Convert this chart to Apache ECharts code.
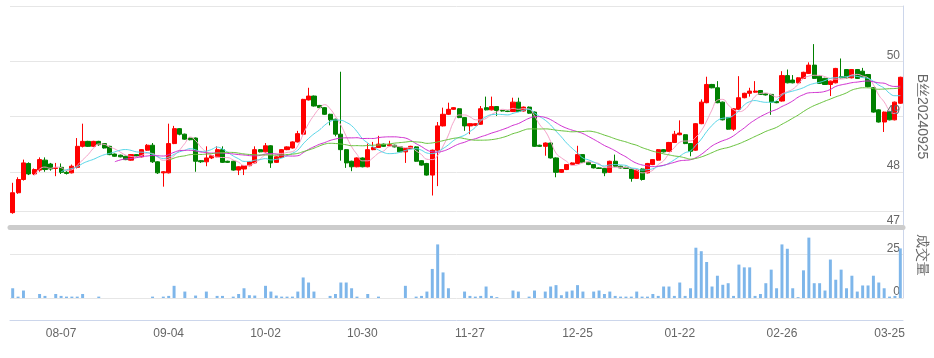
<!DOCTYPE html>
<html><head><meta charset="utf-8">
<script src="https://cdn.jsdelivr.net/npm/echarts@6/dist/echarts.min.js"></script>
<style>html,body{margin:0;padding:0;background:#fff}#main{width:934px;height:358px}</style>
</head><body><div id="main"></div>
<script>
const dates = [
'07-25','07-26','07-29','07-30','07-31','08-01','08-02','08-05','08-06','08-07',
'08-08','08-09','08-12','08-13','08-14','08-15','08-16','08-19','08-20','08-21',
'08-22','08-23','08-26','08-27','08-28','08-29','08-30','09-02','09-03','09-04',
'09-05','09-06','09-09','09-10','09-11','09-12','09-13','09-18','09-19','09-20',
'09-23','09-24','09-25','09-26','09-27','09-30','10-01','10-02','10-07','10-08',
'10-09','10-10','10-11','10-14','10-15','10-16','10-17','10-18','10-21','10-22',
'10-23','10-24','10-25','10-28','10-29','10-30','10-31','11-01','11-04','11-05',
'11-06','11-07','11-08','11-11','11-12','11-13','11-14','11-15','11-18','11-19',
'11-20','11-21','11-22','11-25','11-26','11-27','11-28','11-29','12-02','12-03',
'12-04','12-05','12-06','12-09','12-10','12-11','12-12','12-13','12-16','12-17',
'12-18','12-19','12-20','12-23','12-24','12-25','12-26','12-27','12-30','12-31',
'01-02','01-03','01-06','01-07','01-08','01-09','01-10','01-13','01-14','01-15',
'01-16','01-17','01-20','01-21','01-22','01-23','01-24','01-27','02-05','02-06',
'02-07','02-10','02-11','02-12','02-13','02-14','02-17','02-18','02-19','02-20',
'02-21','02-24','02-25','02-26','02-27','02-28','03-01','03-03','03-04','03-05',
'03-06','03-07','03-10','03-11','03-12','03-13','03-14','03-17','03-18','03-19',
'03-20','03-21','03-24','03-25','03-26','03-27'];
const labelDates = ['08-07','09-04','10-02','10-30','11-27','12-25','01-22','02-26','03-25'];
// [open, close, low, high]
const candles = [
[47.26,47.62,47.24,47.80],[47.62,47.86,47.60,47.90],[47.86,48.16,47.84,48.22],[48.15,47.96,47.94,48.17],[47.96,48.04,47.94,48.06],
[48.03,48.22,48.00,48.26],[48.21,48.04,48.00,48.26],[48.14,48.05,48.02,48.16],[48.06,48.07,47.92,48.16],[48.08,47.99,47.96,48.15],
[47.99,47.97,47.95,48.01],[47.98,48.10,47.97,48.13],[48.08,48.46,48.06,48.61],[48.46,48.55,48.44,48.87],[48.55,48.46,48.45,48.56],
[48.46,48.55,48.45,48.56],[48.55,48.49,48.47,48.56],[48.51,48.43,48.42,48.52],[48.46,48.31,48.30,48.47],[48.32,48.28,48.27,48.33],
[48.30,48.27,48.26,48.31],[48.28,48.22,48.21,48.29],[48.21,48.31,48.20,48.32],[48.31,48.28,48.27,48.32],[48.27,48.40,48.26,48.41],
[48.39,48.48,48.38,48.50],[48.48,48.18,48.16,48.52],[48.18,47.98,47.96,48.19],[47.98,48.00,47.73,48.01],[47.98,48.51,47.97,48.87],
[48.51,48.78,48.50,48.83],[48.78,48.68,48.66,48.79],[48.68,48.59,48.58,48.69],[48.61,48.58,48.57,48.62],[48.61,48.19,48.00,48.62],
[48.20,48.18,48.16,48.21],[48.18,48.25,48.10,48.46],[48.25,48.29,48.23,48.30],[48.27,48.40,48.26,48.46],[48.40,48.17,48.16,48.46],
[48.19,48.17,48.16,48.20],[48.19,48.03,48.02,48.20],[48.03,48.09,47.94,48.10],[48.05,48.11,47.94,48.12],[48.11,48.18,48.10,48.19],
[48.16,48.40,48.15,48.46],[48.40,48.36,48.35,48.41],[48.36,48.47,48.35,48.52],[48.47,48.16,48.07,48.48],[48.17,48.27,48.16,48.28],
[48.26,48.40,48.25,48.41],[48.40,48.45,48.39,48.46],[48.43,48.54,48.42,48.55],[48.54,48.69,48.53,48.74],[48.68,49.31,48.67,49.32],
[49.30,49.37,49.29,49.52],[49.37,49.19,49.18,49.38],[49.20,49.16,49.15,49.21],[49.16,49.04,49.03,49.17],[49.04,48.94,48.84,49.05],
[48.95,48.68,48.64,48.96],[48.68,48.40,48.20,49.81],[48.40,48.16,48.07,48.41],[48.19,48.09,48.01,48.20],[48.09,48.25,48.08,48.26],
[48.25,48.09,48.08,48.26],[48.09,48.40,48.08,48.51],[48.40,48.44,48.39,48.54],[48.44,48.50,48.43,48.65],[48.50,48.46,48.45,48.51],
[48.47,48.49,48.46,48.56],[48.48,48.45,48.44,48.49],[48.45,48.36,48.35,48.46],[48.36,48.42,48.16,48.43],[48.42,48.46,48.41,48.47],
[48.45,48.19,48.18,48.46],[48.20,48.12,48.11,48.21],[48.15,47.94,47.93,48.16],[47.94,48.39,47.57,48.40],[48.39,48.83,47.74,48.90],
[48.83,49.04,48.82,49.16],[49.04,49.13,49.03,49.25],[49.13,49.16,49.12,49.17],[49.14,48.98,48.97,49.15],[48.98,48.83,48.74,48.99],
[48.83,48.87,48.68,48.88],[48.84,48.87,48.83,48.88],[48.86,49.14,48.85,49.19],[49.16,49.12,49.11,49.36],[49.12,49.18,49.11,49.36],
[49.18,49.11,49.01,49.19],[49.11,49.10,49.09,49.12],[49.10,49.09,49.08,49.11],[49.09,49.26,49.08,49.34],[49.26,49.09,49.08,49.34],
[49.10,49.17,49.09,49.18],[49.17,49.06,49.05,49.18],[49.08,48.46,48.45,49.09],[48.48,48.46,48.45,48.49],[48.46,48.52,48.29,48.53],
[48.52,48.25,48.24,48.53],[48.25,47.99,47.90,48.26],[47.99,48.04,47.98,48.05],[48.04,48.13,48.03,48.14],[48.13,48.16,48.12,48.17],
[48.15,48.31,48.14,48.47],[48.31,48.17,48.16,48.32],[48.17,48.13,48.12,48.18],[48.13,48.07,48.06,48.14],[48.07,48.06,48.05,48.08],
[48.06,47.98,47.92,48.07],[47.99,48.19,47.98,48.20],[48.19,48.10,48.09,48.31],[48.10,48.07,48.06,48.11],[48.08,48.06,48.05,48.09],
[48.05,47.88,47.82,48.06],[47.88,48.03,47.87,48.04],[48.05,47.86,47.84,48.06],[47.98,48.15,47.97,48.16],[48.13,48.22,48.12,48.23],
[48.21,48.40,48.20,48.41],[48.40,48.36,48.35,48.41],[48.37,48.53,48.36,48.54],[48.53,48.68,48.52,48.74],[48.67,48.70,48.66,48.93],
[48.67,48.51,48.50,48.68],[48.51,48.37,48.28,48.52],[48.39,48.87,48.38,48.88],[48.87,49.26,48.86,49.31],[49.25,49.58,49.24,49.72],
[49.58,49.52,49.51,49.59],[49.52,49.25,49.24,49.64],[49.26,48.94,48.93,49.27],[48.98,48.77,48.76,48.99],[48.77,49.14,48.74,49.15],
[49.13,49.34,49.12,49.73],[49.34,49.42,49.33,49.43],[49.42,49.46,49.36,49.52],[49.44,49.46,49.43,49.64],[49.47,49.40,49.39,49.48],
[49.41,49.39,49.38,49.42],[49.40,49.26,49.03,49.41],[49.27,49.25,49.24,49.28],[49.28,49.74,49.27,49.82],[49.74,49.61,49.60,49.85],
[49.66,49.61,49.60,49.75],[49.61,49.70,49.60,49.71],[49.69,49.80,49.68,49.81],[49.78,49.93,49.77,49.98],[49.93,49.69,49.68,50.31],
[49.73,49.60,49.59,49.74],[49.69,49.58,49.57,49.70],[49.58,49.64,49.37,49.65],[49.61,49.87,49.60,49.88],[49.72,49.70,49.69,50.05],
[49.85,49.70,49.69,49.86],[49.70,49.85,49.69,49.86],[49.85,49.69,49.68,49.86],[49.82,49.72,49.71,49.88],[49.76,49.54,49.53,49.77],
[49.52,49.08,49.07,49.53],[49.12,48.90,48.89,49.13],[48.90,49.08,48.72,49.09],[49.08,48.94,48.93,49.09],[48.94,49.26,48.93,49.27],
[49.24,49.71,49.23,49.72]];
const volumes = [
5.6,0.8,4.3,0,0,2.3,1.2,0,2.3,1.2,
0.8,0.8,0.8,2.3,0,0,0.8,0,0,0,
0,0,0,0,0,0,0.8,0,0.8,1.2,
7,0,3.7,0,1.4,0,3.7,0,1.2,1.2,
0,0.8,2.3,5.6,1.6,1.4,0,7,3.7,1.4,
0.8,0.8,0.8,3.7,11.8,8.9,3.7,0,0,1.2,
2.3,8.9,8.9,5.6,0.8,0,2.3,0,0.8,0,
0,0,0,7,0,0.8,1.2,3.7,16.7,30.8,
14.7,5.6,0,0,3.7,1.2,0.8,1.2,6.6,1.2,
0.5,0,0,4.3,3.7,0,0.8,4.3,0,3.7,
6.6,7.4,1.6,3.7,4.3,7.4,3.7,0,3.7,4.3,
2.3,3.7,1.2,0.8,0.8,0.8,3.7,0.8,0.8,2.3,
1.2,6.6,6.6,1.2,8.9,1.2,5.6,28.9,26.9,20.7,
6.6,12.8,7.6,8.5,1.2,19.2,17.6,17.6,1.2,2.3,
8.5,16.3,5.6,30.8,28.3,5.6,0.5,15.9,34.7,8.5,
8.5,4.3,22.1,10.5,16.3,5.6,12.8,3.7,7.2,7.2,
12.8,8.9,5.6,0.8,1.2,28.5];
const maDays = [5, 10, 20, 30];

function calcMA(n) {
  const out = [];
  for (let i = 0; i < candles.length; i++) {
    if (i < n - 1) { out.push('-'); continue; }
    let s = 0;
    for (let j = 0; j < n; j++) s += candles[i - j][1];
    out.push(+(s / n).toFixed(3));
  }
  return out;
}
const showLabel = (idx, val) => labelDates.indexOf(val) >= 0;
const maColors = ['#f5a2c8', '#55d6e8', '#d02fd0', '#66c23a'];
const axisBlue = '#ccd6eb';
const labelStyle = {inside: true, margin: 3, verticalAlign: 'bottom', color: '#666', fontSize: 12, showMaxLabel: false};

const chart = echarts.init(document.getElementById('main'));
const option = {
  animation: false,
  backgroundColor: '#fff',
  grid: [
    {left: 10, right: 31, top: 6, height: 221, outerBoundsMode: 'none'},
    {left: 10, right: 31, top: 211, height: 87, outerBoundsMode: 'none'}
  ],
  xAxis: [
    {type: 'category', gridIndex: 0, data: dates, boundaryGap: true,
     axisLine: {onZero: false, lineStyle: {color: '#cccccc', width: 5}},
     axisTick: {show: false}, axisLabel: {show: false}, splitLine: {show: false}},
    {type: 'category', gridIndex: 1, data: dates, boundaryGap: true, offset: 22,
     axisLine: {onZero: false, lineStyle: {color: axisBlue}},
     axisTick: {alignWithLabel: true, interval: showLabel, lineStyle: {color: axisBlue}},
     axisLabel: {interval: showLabel, color: '#666', fontSize: 12, margin: 8},
     splitLine: {show: false}}
  ],
  yAxis: [
    {type: 'value', gridIndex: 0, position: 'right', min: 47, max: 51, interval: 1,
     name: 'B丝20240925', nameLocation: 'middle', nameRotate: -90, nameGap: 12,
     nameTextStyle: {color: '#666', fontSize: 14},
     axisLine: {show: true, lineStyle: {color: axisBlue}}, axisTick: {show: false},
     axisLabel: {show: false},
     splitLine: {lineStyle: {color: '#e6e6e6'}}},
    {type: 'value', gridIndex: 1, position: 'right', min: 0, max: 50, interval: 25,
     name: '成交量', nameLocation: 'middle', nameRotate: -90, nameGap: 12,
     nameTextStyle: {color: '#666', fontSize: 14},
     axisLine: {show: true, lineStyle: {color: axisBlue}}, axisTick: {show: false},
     axisLabel: labelStyle,
     splitLine: {lineStyle: {color: '#e6e6e6'}}},
    {type: 'value', gridIndex: 0, position: 'right', min: 47, max: 51, interval: 1, z: 10,
     axisLine: {show: false}, axisTick: {show: false}, splitLine: {show: false},
     axisLabel: labelStyle}
  ],
  series: [
    {type: 'candlestick', name: 'K', xAxisIndex: 0, yAxisIndex: 0, data: candles, barWidth: '86%',
     itemStyle: {color: '#ff0000', color0: '#008000', borderColor: '#ff0000', borderColor0: '#008000', borderWidth: 1}},
    ...maDays.map((d, k) => ({
      type: 'line', name: 'MA' + d, xAxisIndex: 0, yAxisIndex: 0, data: calcMA(d),
      smooth: true, showSymbol: false, symbol: 'none',
      lineStyle: {width: 1, color: maColors[k]}, itemStyle: {color: maColors[k]}
    })),
    {type: 'bar', name: '成交量', xAxisIndex: 1, yAxisIndex: 1, data: volumes, barWidth: '55%',
     itemStyle: {color: '#7eb6ea'}}
  ]
};
chart.setOption(option);
</script>
</body></html>
